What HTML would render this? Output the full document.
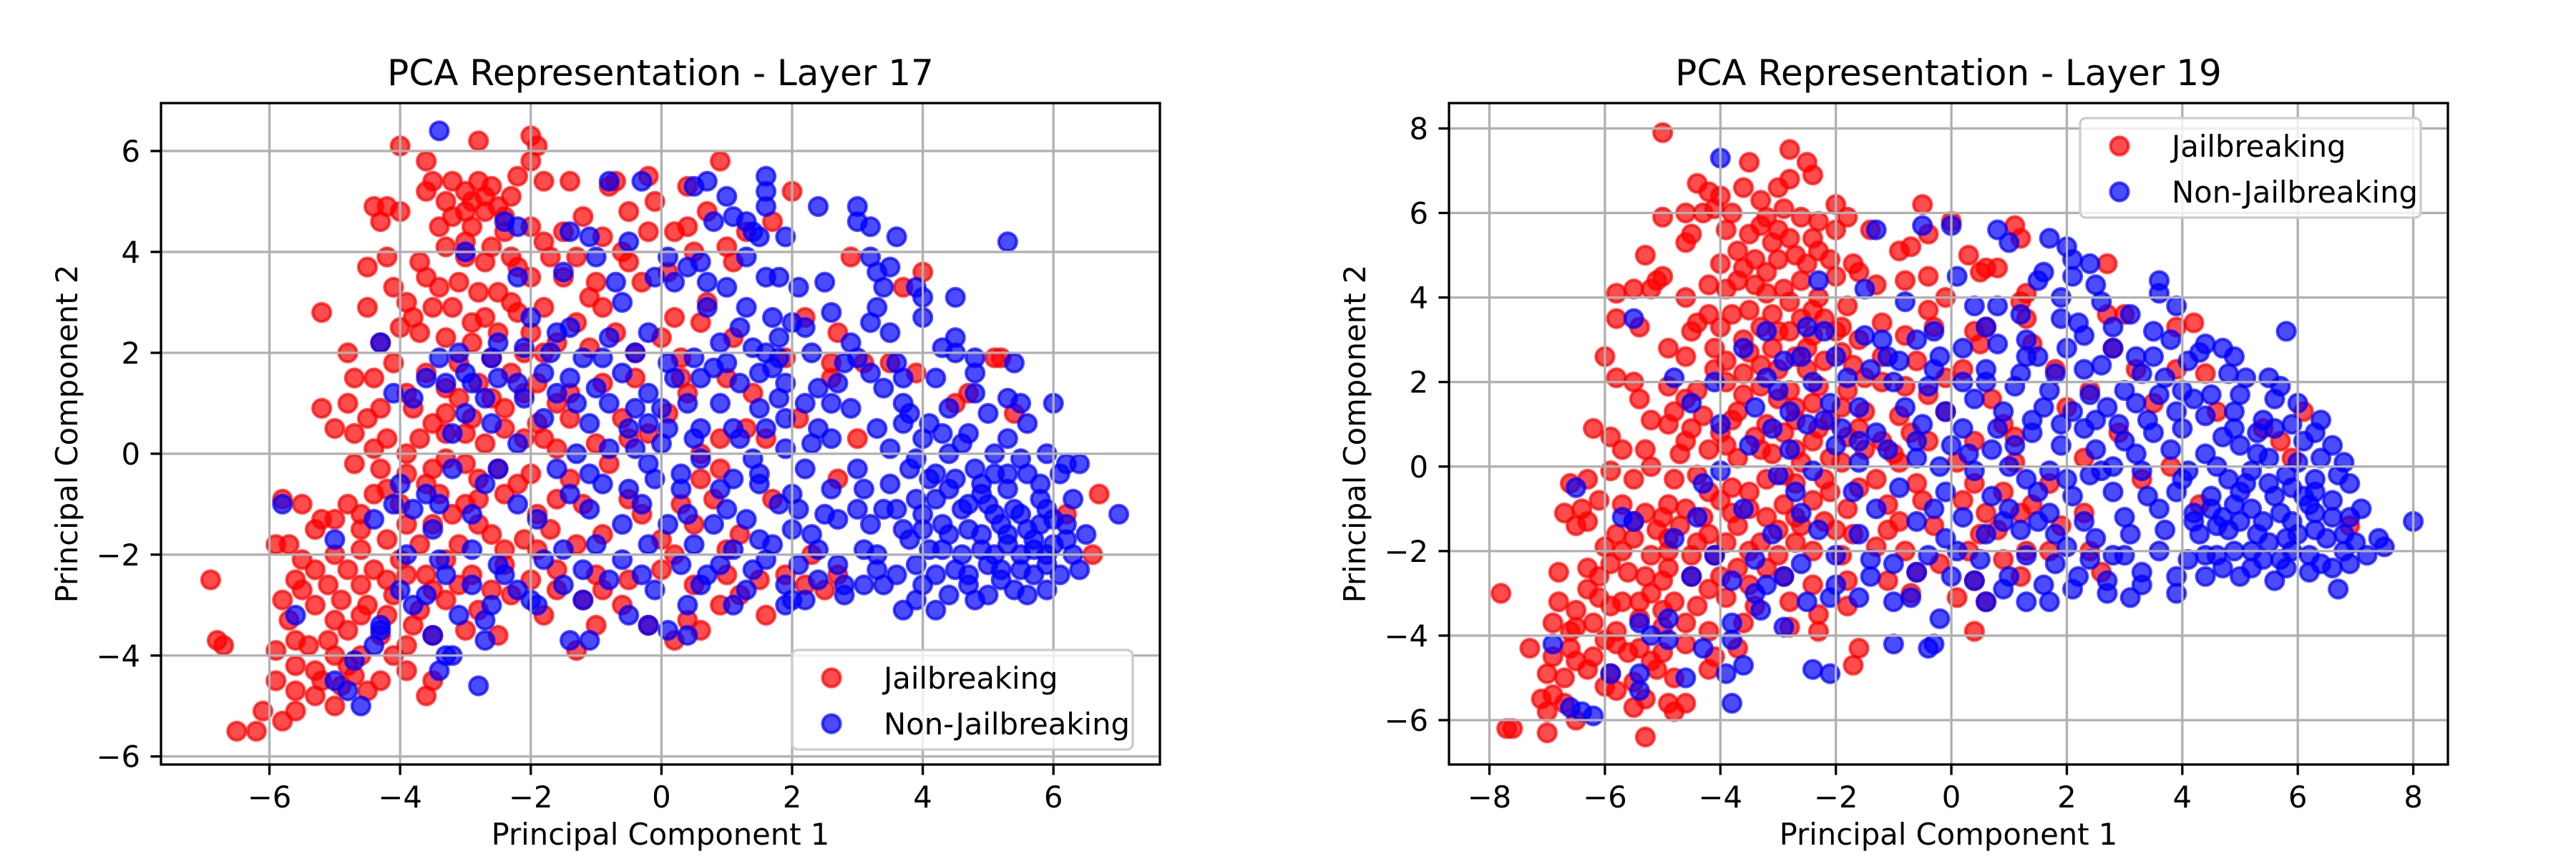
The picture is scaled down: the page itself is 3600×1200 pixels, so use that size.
<!DOCTYPE html>
<html><head><meta charset="utf-8"><style>
html,body{margin:0;padding:0;background:#fff;}
svg{display:block;font-family:"DejaVu Sans","Liberation Sans",sans-serif;}
</style></head><body>
<svg id="fig" width="3600" height="1200" viewBox="0 0 3600 1200" xmlns="http://www.w3.org/2000/svg"></svg>
<script>
// ===== Data: Layer 17 =====
const l17Jail = [[-4.0,6.1],[-2.8,6.2],[-2.0,6.3],[-1.9,6.1],[-2.0,5.8],[-3.6,5.8],[-3.5,5.4],[-3.6,5.2],[-3.2,5.4],[-2.8,5.4],[-2.6,5.3],[-2.3,5.1],[-2.2,5.5],[-1.8,5.4],[-1.4,5.4],[-2.9,5.0],[-3.0,4.8],[-3.2,4.7],[-2.7,4.8],[-2.5,4.9],[-4.2,4.9],[-4.4,4.9],[-4.3,4.6],[-4.0,4.8],[-2.0,4.5],[-1.5,4.4],[-0.8,5.3],[-0.7,5.4],[-0.2,5.5],[-0.1,5.0],[0.4,5.3],[0.9,5.8],[2.0,5.2],[0.7,4.8],[0.4,4.5],[1.7,4.6],[-3.0,4.2],[-2.4,4.4],[-1.8,4.2],[-0.9,4.3],[-0.2,4.4],[0.2,4.4],[1.0,4.1],[-4.2,3.9],[-4.5,3.7],[-3.6,3.5],[-3.0,3.9],[-2.7,3.8],[-2.2,3.7],[-1.7,3.9],[-1.3,3.9],[-0.5,3.8],[0.1,3.6],[1.1,3.8],[2.9,3.9],[-3.1,3.4],[-2.8,3.2],[-2.0,3.5],[-1.5,3.5],[-1.1,3.1],[-0.3,3.4],[-5.2,2.8],[-4.5,2.9],[-3.9,3.0],[-3.5,2.9],[-3.2,2.9],[-2.7,2.7],[-2.2,2.8],[-1.8,2.9],[-1.3,2.6],[-0.9,2.9],[0.2,2.7],[0.7,3.0],[2.2,2.7],[2.7,2.4],[4.0,3.6],[3.7,3.3],[-4.8,2.0],[-4.3,2.2],[-4.0,2.5],[-3.7,2.4],[-3.3,2.3],[-2.9,2.2],[-2.5,2.4],[-2.1,2.0],[-1.6,2.2],[-1.1,2.1],[-0.4,2.0],[0.3,1.9],[1.1,2.3],[1.9,1.9],[2.6,1.8],[3.1,1.8],[3.5,1.8],[5.1,1.9],[5.2,1.9],[-4.7,1.5],[-4.4,1.5],[-3.6,1.6],[-3.3,1.3],[-2.8,1.4],[-2.3,1.6],[-1.9,1.4],[-1.4,1.2],[-0.9,1.4],[-0.4,1.5],[0.4,1.2],[1.4,1.2],[2.6,1.5],[3.9,1.6],[4.5,1.0],[4.7,1.2],[5.4,0.8],[-5.2,0.9],[-4.8,1.0],[-4.3,0.9],[-3.8,0.9],[-3.3,0.8],[-2.9,0.7],[-2.4,0.9],[-1.9,0.6],[-1.4,0.7],[-0.6,0.7],[0.1,0.8],[1.3,0.5],[2.1,0.7],[3.0,0.3],[-5.0,0.5],[-4.7,0.4],[-4.2,0.3],[-3.7,0.3],[-3.3,0.4],[-2.7,0.2],[-2.1,0.3],[-1.6,0.1],[-1.0,0.2],[-0.5,0.3],[0.6,0.0],[0.9,0.3],[1.6,0.3],[-4.7,-0.2],[-4.3,-0.3],[-3.9,-0.4],[-3.5,-0.3],[-3.0,-0.2],[-2.5,-0.3],[-2.0,-0.4],[-1.4,-0.5],[-0.8,-0.2],[0.6,-0.5],[2.7,-0.5],[-5.8,-0.9],[-5.5,-1.0],[-5.2,-1.3],[-4.8,-1.0],[-4.4,-0.8],[-4.0,-1.0],[-3.6,-0.6],[-3.2,-1.2],[-2.8,-0.9],[-2.4,-0.8],[-1.9,-1.2],[-1.6,-0.9],[-1.2,-1.0],[-0.5,-0.9],[0.3,-1.0],[0.8,-0.9],[1.7,-0.9],[6.7,-0.8],[-5.9,-1.8],[-5.7,-1.8],[-5.3,-1.5],[-5.0,-1.3],[-4.6,-1.5],[-4.2,-1.7],[-3.9,-1.4],[-3.5,-1.4],[-3.1,-1.8],[-2.6,-1.6],[-2.1,-1.7],[-1.7,-1.5],[-1.3,-1.8],[-0.9,-1.6],[0.0,-1.7],[0.5,-1.4],[1.2,-1.6],[2.3,-2.0],[6.2,-1.2],[6.6,-2.0],[-5.6,-2.5],[-5.3,-2.3],[-5.0,-2.0],[-4.8,-2.3],[-4.4,-2.3],[-4.0,-2.1],[-3.6,-2.4],[-3.3,-2.1],[-2.9,-2.4],[-2.4,-2.2],[-2.0,-2.5],[-1.6,-2.3],[-1.0,-2.4],[-0.5,-2.5],[0.0,-2.3],[0.5,-2.6],[1.0,-2.4],[1.5,-2.5],[2.2,-2.6],[2.7,-2.4],[-5.8,-2.9],[-5.5,-2.7],[-5.3,-3.0],[-4.9,-2.9],[-4.5,-3.0],[-4.1,-2.8],[-3.7,-3.1],[-3.3,-2.9],[-2.8,-3.1],[-2.3,-2.8],[-1.8,-3.2],[-1.2,-2.9],[-0.6,-3.0],[0.4,-3.3],[0.9,-3.0],[1.6,-3.2],[-5.4,-3.8],[-5.1,-3.7],[-4.8,-3.5],[-4.3,-3.6],[-3.9,-3.8],[-3.5,-3.6],[-3.0,-3.5],[-2.5,-3.6],[-1.3,-3.9],[0.2,-3.7],[0.6,-3.5],[-6.9,-2.5],[-6.8,-3.7],[-6.7,-3.8],[-5.9,-3.9],[-5.6,-4.2],[-5.2,-4.5],[-4.8,-4.2],[-4.3,-4.5],[-3.9,-4.3],[-3.5,-4.5],[-5.9,-4.5],[-5.6,-4.7],[-5.3,-4.8],[-4.9,-4.6],[-4.5,-4.7],[-3.6,-4.8],[-6.1,-5.1],[-5.6,-5.1],[-6.5,-5.5],[-6.2,-5.5]];
const l17JailExtra = [[-3.3,5.0],[-3.0,5.2],[-2.7,5.1],[-2.4,4.7],[-3.4,4.5],[-2.9,4.5],[-3.3,4.1],[-2.6,4.1],[-2.3,3.9],[-3.7,3.8],[-3.4,3.3],[-2.5,3.2],[-2.3,3.0],[-4.1,3.3],[-3.8,2.7],[-2.9,2.6],[-2.0,2.4],[-1.8,2.0],[-3.1,1.8],[-2.6,1.9],[-4.1,1.8],[-3.9,1.2],[-3.1,1.1],[-2.6,1.1],[-2.1,1.2],[-1.6,1.0],[-4.5,0.7],[-3.5,0.6],[-3.0,0.4],[-2.4,0.5],[-1.8,0.3],[-4.4,0.1],[-3.9,0.0],[-3.3,-0.1],[-2.8,-0.5],[-2.2,-0.6],[-4.2,-0.7],[-3.4,-0.8],[-3.0,-1.0],[-4.6,-1.2],[-3.7,-1.8],[-2.8,-1.4],[-2.4,-1.9],[-1.9,-1.9],[-4.6,-1.9],[-5.5,-2.1],[-5.1,-2.6],[-4.6,-2.6],[-4.2,-2.5],[-3.9,-2.4],[-3.5,-2.7],[-3.1,-2.6],[-2.6,-2.7],[-1.6,-2.7],[-0.9,-2.7],[-5.7,-3.3],[-5.0,-3.3],[-4.6,-3.2],[-4.2,-3.2],[-3.8,-3.4],[-5.6,-3.7],[-5.0,-4.0],[-4.6,-4.0],[-4.1,-4.0],[-5.3,-4.3],[-4.7,-4.4],[-5.0,-5.0],[-5.8,-5.3],[-1.0,-3.4],[-0.2,-3.4],[1.2,-2.8],[1.9,-2.4],[2.5,-2.7],[-0.3,-1.2],[0.2,-2.0],[1.0,-1.9],[0.9,-0.3],[-0.2,0.4],[0.3,1.5],[1.0,1.5],[-0.7,2.4],[0.0,2.3],[0.6,2.6],[-1.0,3.4],[-0.6,4.0],[0.5,4.0],[1.3,4.4],[-1.2,4.7],[-0.5,4.8]];
const l17NonJail = [[-3.4,6.4],[-0.8,5.4],[-0.3,5.4],[0.5,5.3],[0.7,5.4],[1.6,5.5],[1.6,5.2],[1.0,5.1],[1.6,4.9],[2.4,4.9],[3.0,4.9],[3.0,4.6],[3.2,4.5],[3.6,4.3],[5.3,4.2],[0.8,4.6],[1.1,4.7],[1.3,4.6],[1.4,4.4],[1.5,4.3],[1.9,4.3],[-2.4,4.6],[-2.2,4.5],[-1.4,4.4],[-1.1,4.3],[-0.5,4.2],[-3.0,4.0],[-1.0,3.9],[0.1,3.9],[0.4,3.7],[0.6,3.8],[1.3,3.9],[3.2,3.9],[3.5,3.7],[3.3,3.6],[-2.2,3.5],[-1.5,3.6],[-0.7,3.4],[-0.1,3.5],[0.2,3.4],[0.7,3.4],[1.0,3.3],[1.6,3.5],[1.8,3.5],[2.1,3.3],[2.5,3.4],[3.4,3.3],[3.9,3.3],[4.5,3.1],[4.0,3.1],[-0.6,3.0],[0.7,2.9],[1.3,2.9],[1.7,2.7],[2.6,2.8],[3.3,2.9],[3.5,2.4],[4.0,2.7],[3.2,2.6],[-2.0,2.7],[-1.4,2.5],[-1.6,2.4],[-0.2,2.4],[1.2,2.5],[2.2,2.5],[4.5,2.3],[4.3,2.1],[-4.3,2.2],[-3.4,1.9],[-3.1,2.0],[-2.6,1.9],[-2.1,2.1],[-1.7,2.0],[-1.2,1.9],[-0.9,1.9],[-0.4,2.0],[0.1,1.8],[0.5,1.9],[1.0,1.8],[1.4,2.1],[1.6,2.0],[1.8,1.9],[2.3,2.0],[2.8,1.8],[3.0,1.9],[3.6,1.8],[4.5,2.0],[4.8,1.9],[5.4,1.8],[-3.6,1.5],[-3.3,1.4],[-2.9,1.4],[-2.5,1.5],[-2.2,1.4],[-1.8,1.6],[-1.4,1.5],[-1.0,1.3],[-0.6,1.6],[0.2,1.5],[0.6,1.5],[1.2,1.4],[1.7,1.7],[1.9,1.4],[2.7,1.4],[3.4,1.3],[3.7,1.5],[4.2,1.5],[4.8,1.6],[4.8,1.2],[5.3,1.1],[5.5,1.0],[6.0,1.0],[-4.1,1.2],[-3.8,1.1],[-2.7,1.1],[-2.1,1.1],[-1.6,1.2],[-1.3,1.0],[-0.8,1.0],[-0.4,0.9],[0.0,0.9],[0.4,1.0],[0.9,1.0],[1.5,0.9],[2.2,1.0],[2.9,0.9],[3.7,1.0],[4.4,0.9],[5.0,0.8],[5.6,0.6],[-3.0,0.8],[-2.6,0.6],[-1.8,0.7],[-1.1,0.6],[-0.5,0.5],[0.1,0.5],[0.6,0.5],[1.1,0.5],[1.9,0.7],[2.4,0.5],[3.3,0.5],[3.7,0.6],[4.3,0.4],[4.7,0.4],[-2.2,0.2],[-1.3,0.0],[-0.8,0.1],[-0.4,0.1],[0.0,0.2],[0.5,0.3],[1.2,0.3],[1.9,0.1],[2.3,0.2],[2.6,0.3],[3.5,0.1],[4.0,0.3],[4.4,0.0],[5.1,0.0],[5.5,-0.1],[5.9,0.0],[6.2,-0.2],[6.4,-0.2],[-3.2,-0.3],[-2.5,-0.3],[-1.6,-0.3],[-1.1,-0.4],[-0.2,-0.2],[0.3,-0.4],[1.5,-0.4],[2.2,-0.3],[3.0,-0.3],[3.8,-0.3],[4.2,-0.4],[4.8,-0.3],[5.3,-0.4],[6.1,-0.4],[-4.0,-0.6],[-3.6,-0.8],[-2.7,-0.6],[-1.4,-0.8],[-0.5,-0.7],[0.3,-0.7],[0.9,-0.7],[1.5,-0.6],[2.0,-0.8],[2.6,-0.7],[3.5,-0.6],[3.9,-0.9],[4.4,-0.7],[4.9,-0.8],[5.3,-0.7],[5.8,-0.9],[6.3,-0.9],[-5.8,-1.0],[-4.1,-1.0],[-3.8,-1.1],[-3.4,-1.0],[-2.9,-1.2],[-2.2,-1.0],[-1.1,-1.1],[-0.3,-1.0],[0.4,-1.2],[1.0,-1.1],[1.8,-1.0],[2.5,-1.2],[3.0,-1.1],[3.6,-1.1],[4.0,-1.2],[4.6,-1.1],[5.0,-1.0],[5.4,-1.1],[5.9,-1.1],[7.0,-1.2],[-4.4,-1.3],[-3.5,-1.5],[-1.9,-1.3],[-0.6,-1.4],[0.1,-1.4],[0.8,-1.4],[1.3,-1.3],[2.0,-1.5],[2.7,-1.3],[3.2,-1.4],[3.7,-1.5],[4.3,-1.4],[4.7,-1.5],[5.2,-1.4],[5.6,-1.5],[6.0,-1.3],[-5.0,-1.7],[-2.9,-1.9],[-1.5,-1.9],[-1.0,-1.8],[-0.2,-1.8],[0.5,-1.8],[1.1,-1.9],[1.7,-1.8],[2.4,-1.9],[3.1,-1.9],[3.8,-1.7],[4.3,-1.9],[4.9,-1.9],[5.3,-1.8],[5.7,-1.9],[6.2,-1.7],[6.5,-1.6],[-3.9,-2.0],[-3.4,-2.1],[-2.5,-2.2],[-1.8,-2.1],[-0.6,-2.1],[0.3,-2.2],[0.9,-2.2],[1.4,-2.3],[2.1,-2.2],[2.7,-2.2],[3.3,-2.3],[3.9,-2.2],[4.5,-2.3],[5.0,-2.2],[5.5,-2.3],[5.9,-2.2],[6.4,-2.3],[-4.0,-2.7],[-3.3,-2.4],[-2.9,-2.6],[-2.2,-2.7],[-1.5,-2.6],[-0.8,-2.5],[-0.1,-2.7],[0.6,-2.6],[1.3,-2.7],[1.9,-2.6],[2.4,-2.5],[2.8,-2.6],[3.4,-2.6],[4.0,-2.6],[4.7,-2.6],[5.2,-2.5],[5.9,-2.7],[-5.6,-3.2],[-4.3,-3.4],[-3.8,-3.0],[-3.1,-3.2],[-2.7,-3.3],[-1.9,-3.0],[-1.2,-2.9],[-0.5,-3.2],[0.4,-3.0],[1.1,-3.0],[1.9,-3.0],[2.0,-2.9],[2.8,-2.8],[3.7,-3.1],[4.2,-3.1],[4.8,-2.9],[5.6,-2.8],[-4.3,-3.5],[-3.5,-3.6],[-2.7,-3.7],[-0.2,-3.4],[0.1,-3.5],[0.4,-3.6],[-1.4,-3.7],[-1.1,-3.7],[-4.4,-3.8],[-3.3,-4.0],[-4.7,-4.1],[-3.4,-4.3],[-5.0,-4.5],[-4.8,-4.7],[-4.6,-5.0],[-2.8,-4.6],[-3.2,-4.0]];
const l17NonJailExtra = [[4.1,-0.5],[4.5,-0.5],[4.9,-0.6],[5.1,-0.4],[5.6,-0.4],[5.8,-0.6],[4.2,-0.9],[4.7,-1.0],[5.1,-1.2],[5.5,-1.2],[5.8,-1.4],[6.2,-1.4],[4.0,-1.5],[4.4,-1.6],[4.9,-1.6],[5.3,-1.6],[5.7,-1.7],[6.0,-1.8],[4.1,-1.9],[4.6,-2.0],[5.1,-2.0],[5.5,-2.0],[5.9,-2.0],[6.3,-2.0],[4.2,-2.4],[4.7,-2.4],[5.2,-2.3],[5.7,-2.4],[6.1,-2.4],[4.4,-2.8],[5.0,-2.8],[5.4,-2.7],[3.9,-2.9],[3.3,-2.0],[3.6,-2.4],[3.1,-2.6],[3.4,-1.1],[3.1,-0.7],[4.6,0.2],[5.3,0.3],[3.8,0.8],[4.1,0.6],[3.9,-0.1],[1.6,0.5],[1.4,-0.1],[1.1,-0.5],[2.1,-1.1],[2.3,-1.6],[1.5,-1.7],[0.7,-2.4],[1.6,-2.1],[2.2,-2.9],[-0.3,-2.4],[-1.2,-2.3],[-2.0,-2.9],[-2.4,-2.4],[-2.6,-3.0],[-3.6,-2.8],[-0.9,-0.6],[-0.1,-0.5],[0.6,-0.1],[1.8,1.1],[2.4,1.3],[2.6,1.0],[0.8,1.7],[1.5,1.6],[-0.2,1.2],[-0.2,0.6],[1.8,2.3],[2.0,2.6],[2.9,2.2],[3.2,1.6],[0.9,2.2],[-0.8,2.3],[-2.5,2.2],[-3.0,1.6],[-3.2,0.4]];
const l17XTicks = [-6,-4,-2,0,2,4,6];
const l17YTicks = [-6,-4,-2,0,2,4,6];

// ===== Data: Layer 19 =====
const l19Jail = [[-5.0,7.9],[-2.8,7.5],[-3.5,7.2],[-2.5,7.2],[-2.4,6.9],[-2.8,6.8],[-3.6,6.6],[-3.0,6.6],[-4.4,6.7],[-4.2,6.5],[-4.0,6.4],[-3.3,6.3],[-2.9,6.1],[-2.0,6.2],[-1.8,5.9],[-0.5,6.2],[-4.6,6.0],[-4.3,6.0],[-4.1,6.1],[-3.8,6.0],[-3.2,5.9],[-2.6,5.9],[-2.3,5.8],[-5.0,5.9],[-4.5,5.5],[-3.5,5.5],[-3.0,5.6],[-2.0,5.6],[-1.4,5.6],[0.0,5.8],[1.1,5.7],[1.2,5.4],[-0.4,5.5],[-4.6,5.3],[-3.7,5.1],[-3.1,5.3],[-2.7,5.0],[-2.3,5.1],[-1.7,4.8],[-0.9,5.1],[-0.7,5.2],[0.3,5.0],[0.6,4.7],[0.8,4.7],[2.7,4.8],[-5.3,5.0],[-4.0,4.8],[-3.4,4.9],[-3.2,4.6],[-2.5,4.8],[-2.0,4.5],[-1.6,4.6],[-1.3,4.3],[-0.8,4.4],[-0.4,4.5],[0.5,4.6],[-5.0,4.5],[-5.1,4.4],[-4.2,4.3],[-3.9,4.2],[-3.4,4.3],[-2.9,4.2],[-2.3,4.0],[-1.8,3.8],[-0.4,3.7],[1.2,3.9],[1.3,4.1],[-5.8,4.1],[-5.5,4.2],[-5.2,4.2],[-4.6,4.0],[-4.2,3.6],[-3.5,3.7],[-3.1,3.6],[-2.6,3.5],[-2.2,3.5],[-1.9,3.3],[-1.2,3.4],[-0.3,3.3],[0.4,3.2],[1.3,3.5],[2.7,3.6],[3.0,3.6],[3.9,3.3],[4.2,3.4],[-5.8,3.5],[-5.4,3.3],[-4.5,3.2],[-4.0,3.3],[-3.6,3.0],[-3.0,3.2],[-2.4,3.1],[-1.6,3.0],[-0.8,3.1],[0.5,2.9],[1.4,2.9],[2.8,2.8],[-4.9,2.8],[-4.6,2.6],[-4.1,2.8],[-3.5,2.7],[-3.3,2.4],[-2.7,2.6],[-2.2,2.5],[-1.7,2.4],[-1.2,2.6],[-0.6,2.5],[0.2,2.3],[1.8,2.3],[3.2,2.3],[3.9,2.3],[4.4,2.2],[-6.0,2.6],[-5.8,2.1],[-5.5,2.0],[-4.9,1.9],[-4.4,1.8],[-3.9,2.0],[-3.3,1.9],[-2.8,1.8],[-2.3,1.9],[-1.8,1.8],[-1.2,2.0],[-0.4,1.7],[0.7,1.6],[2.4,1.8],[3.5,1.5],[4.6,1.3],[6.1,1.3],[-5.4,1.6],[-4.8,1.3],[-4.3,1.2],[-3.7,1.3],[-3.2,1.0],[-2.7,1.4],[-2.1,1.1],[-1.5,1.3],[-0.9,1.2],[-0.1,1.3],[0.9,1.0],[2.0,1.4],[-6.2,0.9],[-5.9,0.7],[-5.2,1.1],[-4.9,1.0],[-4.5,0.9],[-4.0,0.8],[-3.4,0.7],[-2.9,0.8],[-2.4,0.6],[-1.8,0.7],[-1.2,0.6],[-0.7,0.8],[0.4,0.6],[1.1,0.7],[2.9,0.8],[5.4,0.9],[5.7,0.6],[-5.7,0.4],[-5.3,0.4],[-4.7,0.3],[-4.2,0.4],[-3.7,0.2],[-3.1,0.3],[-2.7,0.4],[-2.1,0.2],[-1.5,0.4],[-1.0,0.3],[0.1,0.1],[1.1,0.1],[2.3,0.2],[3.8,0.0],[5.9,0.2],[-6.6,-0.4],[-6.3,-0.3],[-5.9,-0.1],[-5.2,0.0],[-4.8,-0.3],[-4.4,-0.2],[-3.8,-0.5],[-3.2,-0.3],[-2.7,-0.4],[-2.2,-0.3],[-1.6,-0.5],[-0.6,-0.4],[0.4,-0.4],[1.7,-0.4],[3.3,-0.3],[-6.7,-1.1],[-6.4,-1.0],[-6.1,-0.8],[-5.7,-0.9],[-5.3,-1.1],[-4.9,-0.9],[-4.6,-1.0],[-4.0,-0.8],[-3.5,-1.0],[-2.9,-0.9],[-2.4,-0.8],[-1.8,-1.0],[-1.1,-0.9],[-0.5,-0.8],[0.6,-1.1],[1.2,-1.1],[2.3,-1.1],[4.3,-0.9],[-6.5,-1.4],[-6.3,-1.3],[-5.8,-1.6],[-5.5,-1.3],[-5.1,-1.5],[-4.7,-1.4],[-4.2,-1.6],[-3.7,-1.4],[-3.0,-1.5],[-2.6,-1.4],[-2.0,-1.5],[-1.7,-1.6],[-1.1,-1.5],[-0.3,-1.4],[0.8,-1.5],[1.9,-1.4],[6.9,-1.4],[-6.0,-1.9],[-5.7,-2.0],[-5.2,-2.1],[-4.9,-2.0],[-4.5,-2.1],[-4.1,-2.1],[-3.5,-2.0],[-3.0,-2.1],[-2.4,-2.0],[-1.9,-2.1],[-1.3,-1.9],[-0.8,-2.0],[0.3,-2.0],[0.9,-2.2],[1.7,-2.0],[2.4,-2.0],[-6.8,-2.5],[-6.3,-2.4],[-6.1,-2.6],[-5.6,-2.5],[-5.3,-2.6],[-4.9,-2.4],[-4.5,-2.6],[-4.0,-2.6],[-3.5,-2.8],[-2.9,-2.6],[-2.4,-2.8],[-1.8,-2.7],[-1.1,-2.7],[-0.6,-2.5],[0.4,-2.7],[1.2,-2.6],[2.6,-2.5],[-6.8,-3.2],[-6.5,-3.4],[-6.1,-3.1],[-5.7,-3.2],[-5.2,-3.0],[-4.8,-3.2],[-4.4,-3.3],[-3.9,-3.1],[-3.4,-3.3],[-2.8,-3.2],[-2.3,-3.5],[-1.8,-3.3],[-0.7,-3.0],[0.1,-3.1],[0.6,-3.2],[-6.9,-3.7],[-6.5,-3.8],[-6.2,-3.7],[-5.8,-3.9],[-5.4,-3.6],[-5.0,-3.8],[-4.6,-3.7],[-4.2,-3.9],[-3.6,-3.7],[-2.8,-3.8],[-2.3,-3.9],[0.4,-3.9],[-7.3,-4.3],[-6.9,-4.5],[-6.6,-4.3],[-6.2,-4.5],[-5.8,-4.2],[-5.4,-4.3],[-5.0,-4.4],[-4.6,-4.2],[-4.1,-4.5],[-3.7,-4.3],[-1.6,-4.3],[-7.0,-4.9],[-6.7,-5.0],[-6.3,-4.8],[-5.9,-4.9],[-5.5,-5.1],[-5.1,-4.8],[-4.8,-5.0],[-4.2,-4.8],[-1.7,-4.7],[-7.1,-5.5],[-6.9,-5.4],[-5.8,-5.3],[-5.3,-5.5],[-4.9,-5.6],[-4.6,-5.6],[-7.0,-5.8],[-6.5,-6.0],[-4.8,-5.8],[-7.7,-6.2],[-7.6,-6.2],[-7.0,-6.3],[-5.3,-6.4],[-7.8,-3.0]];
const l19JailExtra = [[-3.9,5.6],[-3.3,5.7],[-2.8,5.4],[-2.4,5.4],[-3.6,4.7],[-3.0,4.9],[-2.6,4.4],[-2.1,4.9],[-3.7,4.4],[-3.2,4.1],[-2.8,3.9],[-2.4,3.7],[-4.4,3.4],[-3.8,3.6],[-3.3,3.3],[-2.8,3.2],[-2.0,3.2],[-3.9,2.5],[-3.1,2.8],[-2.5,2.8],[-1.9,2.7],[-4.1,2.3],[-3.6,2.2],[-3.0,2.3],[-2.5,2.3],[-1.5,2.1],[-4.6,1.6],[-3.6,1.7],[-3.0,1.6],[-2.4,1.5],[-1.9,1.4],[-3.8,1.1],[-2.7,1.1],[-2.3,0.9],[-1.6,0.9],[-4.6,0.6],[-3.9,0.5],[-3.3,0.4],[-2.6,0.1],[-1.9,0.1],[-5.5,-0.3],[-4.2,-0.6],[-3.5,-0.6],[-2.9,-0.2],[-2.1,-0.6],[-5.0,-1.2],[-4.3,-1.2],[-3.8,-1.1],[-3.2,-1.2],[-2.7,-1.2],[-2.2,-1.3],[-5.5,-1.7],[-4.9,-1.7],[-4.4,-1.8],[-3.9,-1.8],[-3.3,-1.8],[-2.7,-1.8],[-5.9,-2.3],[-5.0,-2.7],[-4.2,-2.9],[-3.7,-2.4],[-3.2,-2.4],[-6.3,-2.9],[-5.9,-3.3],[-5.4,-3.2],[-5.0,-3.4],[-6.6,-3.9],[-6.0,-4.1],[-5.6,-4.4],[-5.2,-4.6],[-6.5,-4.6],[-6.0,-5.2],[-6.7,-5.6],[-5.5,-5.7],[-1.3,-0.3],[-0.9,0.1],[-0.4,0.6],[0.2,-0.8],[0.9,-0.6],[1.4,-0.9],[0.5,-1.6],[1.3,-2.0],[-0.2,-2.3],[-0.9,-1.3],[-0.8,1.9],[-0.1,2.1],[0.6,3.3],[-0.1,4.0]];
const l19NonJail = [[-4.0,7.3],[-1.3,5.6],[-0.5,5.7],[0.0,5.7],[0.8,5.6],[1.0,5.3],[1.7,5.4],[2.0,5.2],[2.1,4.9],[2.4,4.8],[1.6,4.6],[1.5,4.4],[2.1,4.5],[2.5,4.3],[3.6,4.4],[3.6,4.1],[3.9,3.8],[3.1,3.6],[1.9,4.0],[2.6,3.9],[-2.3,4.4],[-1.5,4.2],[-0.8,3.9],[0.1,4.5],[0.4,3.8],[0.8,3.8],[1.2,3.6],[1.9,3.5],[2.2,3.4],[2.3,3.1],[3.5,3.2],[3.8,3.0],[4.4,2.9],[4.7,2.8],[5.8,3.2],[-5.5,3.5],[-3.2,3.2],[-2.5,3.3],[-2.2,3.2],[-1.5,3.1],[-1.2,3.0],[-0.6,3.0],[-0.3,3.2],[0.2,2.8],[0.8,2.9],[1.3,3.0],[1.5,2.6],[2.8,2.8],[3.2,2.6],[4.1,2.5],[4.3,2.7],[4.9,2.6],[-3.6,2.8],[-2.9,2.5],[-2.0,2.6],[-1.4,2.3],[-0.9,2.5],[-0.2,2.6],[0.6,2.3],[1.2,2.2],[1.8,2.2],[2.3,2.3],[2.6,2.4],[3.3,2.2],[3.7,2.1],[4.8,2.2],[5.1,2.1],[5.5,2.1],[5.7,1.9],[-4.8,2.1],[-4.1,2.0],[-3.2,2.1],[-2.4,2.0],[-1.8,2.1],[-1.0,2.0],[-0.4,1.9],[0.2,2.0],[0.6,2.0],[1.1,1.9],[1.7,1.8],[2.4,1.7],[3.0,1.8],[3.6,1.7],[4.0,1.8],[4.5,1.7],[5.0,1.7],[5.6,1.6],[6.0,1.5],[-4.5,1.5],[-3.4,1.4],[-2.8,1.3],[-2.1,1.5],[-1.6,1.4],[-0.8,1.4],[-0.1,1.3],[0.4,1.6],[0.9,1.3],[1.6,1.4],[2.1,1.3],[2.7,1.4],[3.2,1.5],[3.9,1.3],[4.4,1.2],[4.9,1.3],[5.4,1.1],[5.9,1.0],[6.3,0.8],[-4.0,1.0],[-3.1,0.9],[-2.5,1.0],[-1.9,0.9],[-1.3,0.8],[-0.5,1.0],[0.2,0.9],[0.8,0.9],[1.4,0.8],[2.3,0.9],[2.9,1.0],[3.5,0.8],[4.0,0.9],[4.7,0.7],[5.3,0.8],[6.1,0.6],[6.6,0.5],[-3.5,0.5],[-2.8,0.4],[-2.0,0.5],[-1.1,0.4],[-0.6,0.6],[0.0,0.5],[0.7,0.4],[1.1,0.5],[1.9,0.5],[2.5,0.4],[3.2,0.3],[3.8,0.4],[4.4,0.3],[5.0,0.5],[5.5,0.2],[6.4,0.2],[6.8,0.1],[-4.0,-0.1],[-3.0,-0.2],[-2.4,-0.1],[-1.6,0.1],[-0.2,0.0],[0.4,-0.1],[1.0,0.0],[1.7,-0.1],[2.4,-0.2],[2.8,0.0],[3.3,-0.1],[4.1,-0.1],[4.6,0.0],[5.2,-0.1],[5.8,-0.2],[6.3,-0.3],[6.9,-0.4],[-4.3,-0.4],[-2.7,-0.6],[-1.7,-0.6],[-0.9,-0.5],[-0.1,-0.6],[0.7,-0.7],[1.5,-0.6],[2.1,-0.7],[2.8,-0.6],[3.4,-0.7],[3.9,-0.6],[4.5,-0.7],[5.0,-0.6],[5.6,-0.7],[6.1,-0.7],[6.6,-0.8],[-6.5,-0.5],[-5.7,-1.2],[-5.5,-1.3],[-4.4,-1.2],[-3.6,-1.0],[-2.6,-1.1],[-1.3,-1.0],[-0.6,-1.3],[0.2,-1.2],[1.0,-1.0],[1.7,-1.1],[2.3,-1.3],[3.0,-1.2],[3.6,-1.0],[4.2,-1.1],[4.7,-1.2],[5.2,-1.0],[5.7,-1.1],[6.3,-1.1],[6.9,-1.2],[8.0,-1.3],[-4.8,-1.7],[-3.1,-1.6],[-2.3,-1.5],[-1.6,-1.6],[-0.1,-1.7],[0.6,-1.6],[1.2,-1.5],[1.8,-1.6],[2.5,-1.7],[3.1,-1.6],[3.7,-1.5],[4.3,-1.6],[4.8,-1.5],[5.3,-1.6],[5.8,-1.7],[6.3,-1.5],[6.8,-1.6],[7.4,-1.7],[-4.1,-2.1],[-3.4,-2.2],[-2.0,-2.1],[-1.0,-2.3],[0.1,-2.0],[0.5,-2.2],[1.3,-2.1],[1.8,-2.3],[2.4,-2.2],[3.0,-2.1],[3.6,-2.0],[4.1,-2.2],[4.6,-2.1],[5.2,-2.0],[5.7,-2.2],[6.2,-2.1],[6.8,-2.0],[7.2,-2.1],[7.5,-1.9],[-4.5,-2.6],[-3.8,-2.7],[-2.9,-2.6],[-2.0,-2.8],[-1.4,-2.6],[-0.6,-2.5],[0.4,-2.7],[1.0,-2.6],[1.6,-2.8],[2.2,-2.6],[2.7,-2.7],[3.3,-2.5],[3.9,-2.6],[4.4,-2.6],[5.0,-2.6],[5.6,-2.7],[6.2,-2.5],[6.6,-2.4],[-3.4,-3.0],[-2.5,-3.2],[-2.1,-3.1],[-1.6,-3.1],[-1.0,-3.2],[-0.7,-3.1],[0.6,-3.2],[1.3,-3.2],[1.7,-3.2],[2.7,-3.0],[3.1,-3.1],[3.9,-3.0],[6.7,-2.9],[-5.4,-3.7],[-4.9,-3.6],[-3.8,-3.7],[-3.3,-3.4],[-2.9,-3.8],[-0.2,-3.6],[-1.0,-4.2],[-0.4,-4.3],[-0.3,-4.2],[-4.9,-4.1],[-5.2,-4.0],[-6.9,-4.2],[-4.3,-4.3],[-3.8,-4.1],[-5.9,-4.9],[-5.4,-4.9],[-4.6,-5.0],[-3.9,-4.9],[-3.6,-4.7],[-2.4,-4.8],[-2.1,-4.9],[-5.4,-5.3],[-3.8,-5.6],[-6.6,-5.7],[-6.4,-5.8],[-6.2,-5.9]];
const l19NonJailExtra = [[4.8,-0.3],[5.1,-0.4],[5.5,-0.4],[5.9,-0.5],[6.3,-0.6],[6.7,-0.2],[4.5,-1.0],[4.9,-0.9],[5.4,-1.3],[5.9,-1.3],[6.2,-0.9],[6.6,-1.2],[7.1,-1.0],[4.6,-1.4],[5.0,-1.3],[5.5,-1.8],[6.0,-1.6],[6.5,-1.7],[7.0,-1.8],[4.9,-2.0],[5.4,-2.2],[5.9,-2.0],[6.4,-2.3],[6.9,-2.3],[4.7,-2.4],[5.2,-2.4],[5.8,-2.4],[4.4,-2.1],[4.2,-1.3],[4.0,-0.3],[5.3,0.3],[6.0,0.1],[4.9,0.9],[5.6,0.9],[6.4,1.1],[4.2,1.6],[3.4,1.1],[3.0,0.6],[2.6,-0.1],[2.0,-0.3],[1.3,-0.3],[0.9,-1.3],[1.5,-1.3],[2.0,-1.9],[2.8,-2.1],[3.3,-2.8],[2.1,-2.9],[0.9,-2.9],[0.0,-2.6],[-0.4,-2.1],[-1.4,-2.2],[-2.6,-2.3],[-3.2,-2.8],[-0.3,-1.0],[-0.6,0.2],[0.3,0.3],[1.4,1.1],[1.9,1.0],[2.5,1.1],[1.3,2.6],[2.0,2.8],[3.5,2.6],[2.8,3.3],[0.6,3.3],[-0.3,2.3],[-1.1,2.6],[-2.6,2.6],[-3.0,1.8],[-2.2,1.1],[-1.6,0.6]];
const l19XTicks = [-8,-6,-4,-2,0,2,4,6,8];
const l19YTicks = [-6,-4,-2,0,2,4,6,8];

const seriesNames = ['Jailbreaking','Non-Jailbreaking'];

const NS = 'http://www.w3.org/2000/svg';
const fig = document.getElementById('fig');
function mk(tag, attrs, parent){
  const e = document.createElementNS(NS, tag);
  for (const k in attrs) e.setAttribute(k, attrs[k]);
  (parent||fig).appendChild(e);
  return e;
}
function fmt(v){ return v < 0 ? '\u2212' + Math.abs(v) : String(v); }

function drawPanel(cfg){
  const g = mk('g', {});
  
  
  const L = cfg.left, T = 144, W = 1396, H = 924;
  const sx = v => L + (v - cfg.xmin) / (cfg.xmax - cfg.xmin) * W;
  const sy = v => T + (cfg.ymax - v) / (cfg.ymax - cfg.ymin) * H;
  const clip = mk('clipPath', {id: cfg.id + '-clip'}, g);
  mk('rect', {x: L, y: T, width: W, height: H}, clip);

  const groups = [[cfg.jail, '255,0,0', 'jailbreaking'], [cfg.non, '0,0,255', 'non-jailbreaking']];
  groups.forEach(([pts, col, nm]) => {
    const sg = mk('g', {'clip-path': 'url(#' + cfg.id + '-clip)'}, g);
    
    
    pts.forEach(p => {
      const c = mk('circle', {cx: sx(p[0]).toFixed(1), cy: sy(p[1]).toFixed(1), r: 12.5,
        fill: 'rgba(' + col + ',0.7)', stroke: 'rgba(' + col + ',0.7)', 'stroke-width': 4.2}, sg);
      
      
    });
  });

  const grid = mk('g', {stroke: '#b0b0b0', 'stroke-width': 3.3}, g);
  
  
  cfg.xt.forEach(v => mk('line', {x1: sx(v), x2: sx(v), y1: T, y2: T + H}, grid));
  cfg.yt.forEach(v => mk('line', {x1: L, x2: L + W, y1: sy(v), y2: sy(v)}, grid));

  const sp = mk('rect', {x: L, y: T, width: W, height: H, fill: 'none', stroke: '#000', 'stroke-width': 3.3}, g);
  
  

  cfg.xt.forEach(v => {
    mk('line', {x1: sx(v), x2: sx(v), y1: T + H, y2: T + H + 14.6, stroke: '#000', 'stroke-width': 3.3}, g);
    const t = mk('text', {x: sx(v), y: 1128, 'font-size': 41.7, 'text-anchor': 'middle'}, g);
    t.textContent = fmt(v);
    
    
  });
  cfg.yt.forEach(v => {
    mk('line', {x1: L - 14.6, x2: L, y1: sy(v), y2: sy(v), stroke: '#000', 'stroke-width': 3.3}, g);
    const t = mk('text', {x: L - 29, y: sy(v) + 15, 'font-size': 41.7, 'text-anchor': 'end'}, g);
    t.textContent = fmt(v);
    
    
  });

  const title = mk('text', {x: L + W / 2, y: 119, 'font-size': 50, 'text-anchor': 'middle'}, g);
  title.textContent = cfg.title;
  
  
  const xl = mk('text', {x: L + W / 2, y: 1180, 'font-size': 41.7, 'text-anchor': 'middle'}, g);
  xl.textContent = 'Principal Component 1';
  
  
  const yx = L - 117, yy = T + H / 2;
  const yl = mk('text', {x: yx, y: yy, 'font-size': 41.7, 'text-anchor': 'middle', transform: 'rotate(-90 ' + yx + ' ' + yy + ')'}, g);
  yl.textContent = 'Principal Component 2';
  
  

  const lg = mk('g', {}, g);
  
  
  const lw = 476, lh = 139, lx = L + W - 38 - lw, ly = cfg.legendTop ? T + 21 : T + H - 21 - lh;
  mk('rect', {x: lx, y: ly, width: lw, height: lh, rx: 8, fill: 'rgba(255,255,255,0.8)', stroke: '#cccccc', 'stroke-width': 3.3}, lg);
  [['255,0,0', seriesNames[0]], ['0,0,255', seriesNames[1]]].forEach(([col, name], i) => {
    const cy = ly + 39 + i * 64;
    const e = mk('g', {}, lg);
    
    
    mk('circle', {cx: lx + 55, cy: cy, r: 12.5, fill: 'rgba(' + col + ',0.7)', stroke: 'rgba(' + col + ',0.7)', 'stroke-width': 4.2}, e);
    const t = mk('text', {x: lx + 128, y: cy + 15, 'font-size': 41.7}, e);
    t.textContent = name;
  });
}

drawPanel({id: 'layer17', left: 225, xmin: -7.66, xmax: 7.63, ymin: -6.16, ymax: 6.95,
  jail: l17Jail.concat(l17JailExtra), non: l17NonJail.concat(l17NonJailExtra), xt: l17XTicks, yt: l17YTicks, title: 'PCA Representation - Layer 17', legendTop: false});
drawPanel({id: 'layer19', left: 2025, xmin: -8.7, xmax: 8.6, ymin: -7.05, ymax: 8.6,
  jail: l19Jail.concat(l19JailExtra), non: l19NonJail.concat(l19NonJailExtra), xt: l19XTicks, yt: l19YTicks, title: 'PCA Representation - Layer 19', legendTop: true});
</script>
</body></html>
